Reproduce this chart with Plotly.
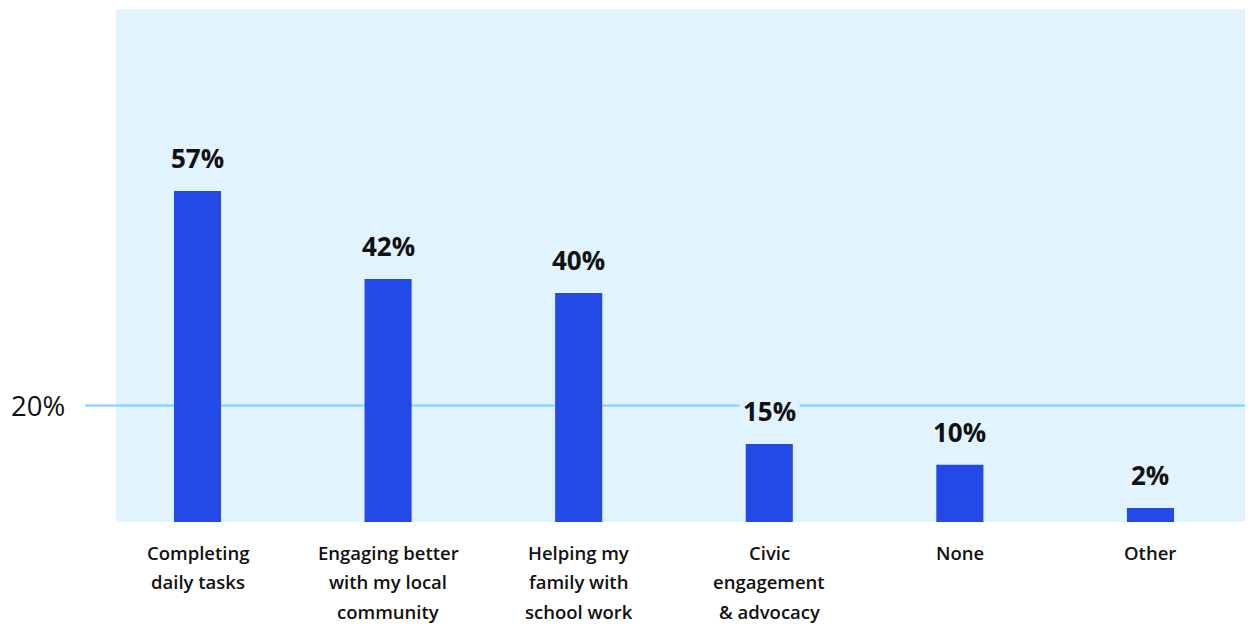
import plotly.graph_objects as go

categories = ["Completing<br>daily tasks", "Engaging better<br>with my local<br>community",
              "Helping my<br>family with<br>school work", "Civic<br>engagement<br>& advocacy",
              "None", "Other"]
# bar heights as drawn in the reference (labels show the rounded figures)
values = [56.8, 41.7, 39.3, 13.4, 9.8, 2.4]
value_labels = ["57%", "42%", "40%", "15%", "10%", "2%"]
ref_value = 20
ref_label = "20%"

BAR = "#2349E6"
BG = "#E1F3FD"
LINE = "#7DD0FA"
FONT = "Open Sans, Noto Sans, sans-serif"

# page has an 8px body margin; compensate so the plot lands where the reference has it
OFF = 8
W, H = 1253 - OFF, 624 - OFF
plot_left_px, plot_right_px, plot_top_px, plot_bottom_px = 116, 1253, 9, 522
plot_w = plot_right_px - plot_left_px

x_idx = list(range(len(categories)))

fig = go.Figure()
fig.add_trace(go.Bar(x=x_idx, y=values, width=0.247, marker=dict(color=BAR, line=dict(width=0)),
                     hoverinfo="skip"))

annotations = []
for i, (v, lab) in enumerate(zip(values, value_labels)):
    annotations.append(dict(x=i, y=v, xref="x", yref="y", text=f"<b>{lab}</b>", showarrow=False,
                            yanchor="middle", yshift=33, bgcolor=BG, borderpad=3,
                            font=dict(family=FONT, size=26, color="#111111")))
for i, cat in enumerate(categories):
    for j, line in enumerate(cat.split("<br>")):
        annotations.append(dict(x=i, y=0, xref="x", yref="paper", text=line,
                                showarrow=False, yanchor="middle", yshift=-30.5 - 29.3 * j,
                                borderpad=0,
                                font=dict(family=FONT, size=18.5, color="#111111", weight=600)))
annotations.append(dict(x=(67 - plot_left_px) / plot_w, y=ref_value, xref="paper", yref="y",
                        text=ref_label, showarrow=False, xanchor="right", yanchor="middle",
                        font=dict(family=FONT, size=27.5, color="#111111")))

fig.add_shape(type="line", xref="paper", yref="y", x0=(85 - plot_left_px) / plot_w, x1=1,
              y0=ref_value, y1=ref_value, line=dict(color=LINE, width=2), layer="below")

fig.update_layout(
    width=W, height=H,
    margin=dict(l=plot_left_px - OFF, r=0, t=plot_top_px - OFF, b=624 - plot_bottom_px, pad=0),
    paper_bgcolor="white", plot_bgcolor=BG,
    showlegend=False,
    annotations=annotations,
    xaxis=dict(range=[-0.4276, 5.538], showticklabels=False, showgrid=False, zeroline=False,
               fixedrange=True),
    yaxis=dict(range=[0, 88.0], showticklabels=False, showgrid=False, zeroline=False,
               fixedrange=True),
)

fig.write_html("out.html")
